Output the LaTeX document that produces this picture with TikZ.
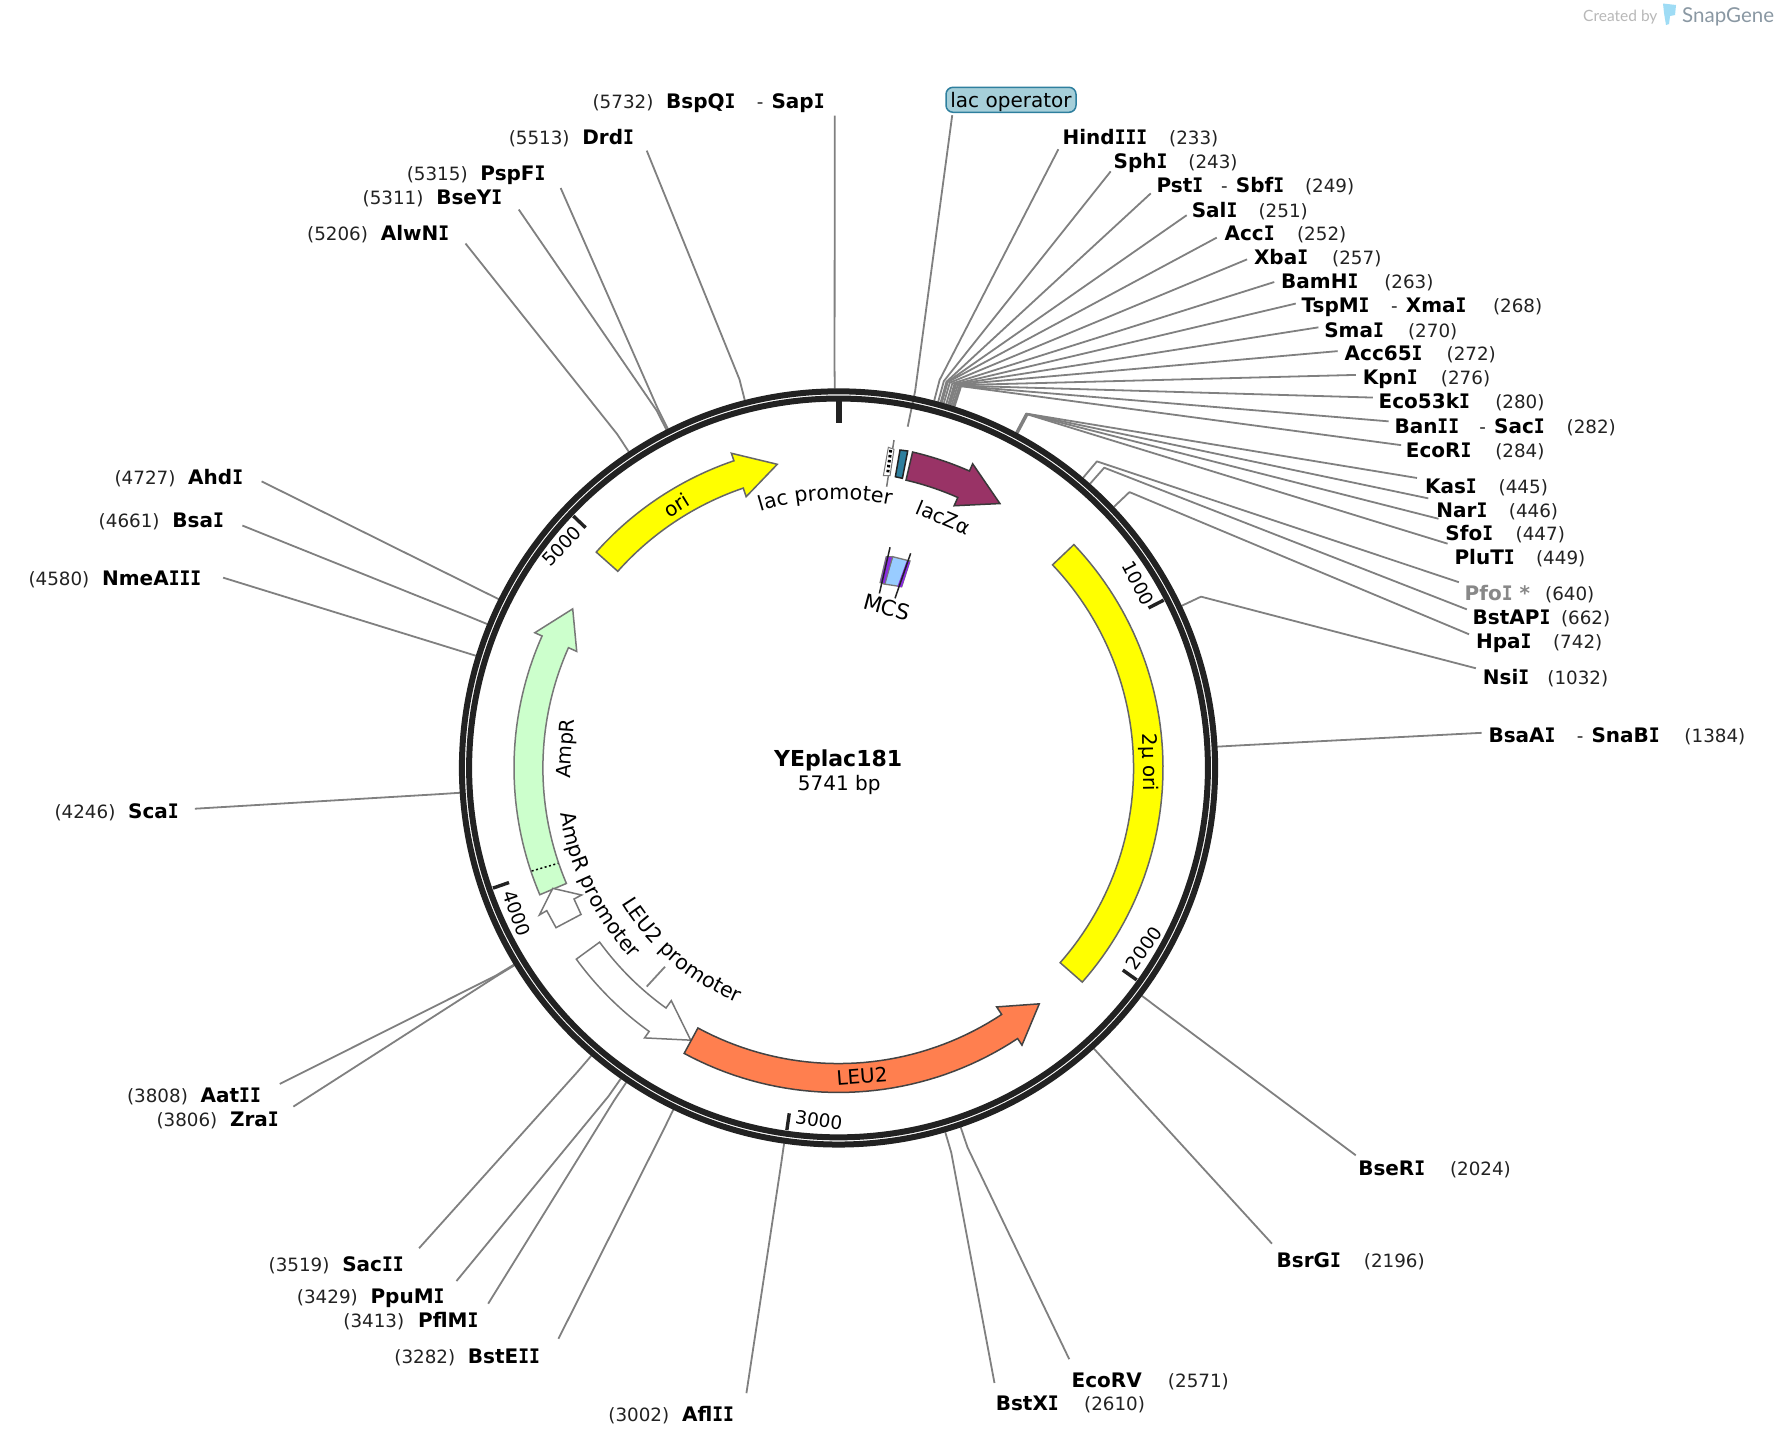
\documentclass[tikz,border=0pt]{standalone}
\usepackage{fontspec}
\setmainfont{DejaVu Sans}
\newfontfamily\monoI[FakeStretch=0.9]{DejaVu Sans Mono Bold}
\newfontfamily\latofont{Lato}
\usetikzlibrary{decorations.text}
\newcommand\J{{\monoI I}}
\definecolor{leadgray}{HTML}{808080}
\definecolor{ringdark}{HTML}{222222}
\definecolor{edgegray}{HTML}{666666}
\definecolor{edgelight}{HTML}{777777}
\definecolor{lacz}{HTML}{993366}
\definecolor{ampg}{HTML}{CCFFCC}
\definecolor{leuo}{HTML}{FF7F4F}
\definecolor{opblue}{HTML}{2E7F9E}
\definecolor{oppale}{HTML}{A6CFD9}
\definecolor{mcsblue}{HTML}{99CCFF}
\definecolor{mcspurple}{HTML}{8A2BE2}
\definecolor{pfogray}{HTML}{888888}
\definecolor{logotext}{HTML}{8A98A3}
\definecolor{logogray}{HTML}{B8B8B8}
\definecolor{logoblue}{HTML}{9FDCF5}
\definecolor{pureyellow}{HTML}{FFFF00}
\tikzset{
  leader/.style={draw=leadgray,line width=1.8pt,line join=round},
  namelab/.style={anchor=base west,inner sep=0pt,font=\fontsize{20}{24}\selectfont\bfseries},
  numlab/.style={anchor=base west,inner sep=0pt,font=\fontsize{18.3}{22}\selectfont,text=ringdark},
  featlab/.style={inner sep=0pt,font=\fontsize{20}{24}\selectfont},
  ticklab/.style={inner sep=0pt,font=\fontsize{18.5}{22}\selectfont},
  feat/.style={line width=1.5pt,line join=miter},
}
% site leader: id, bp, free end x, y
\newcommand\site[4]{%
  \pgfmathsetmacro{\thb}{#2/5741*360}%
  \coordinate (#1-r) at ({740.3+335*sin(\thb)},{678-335*cos(\thb)});%
  \coordinate (#1-k) at ({740.3+354*sin(\thb)},{678-354*cos(\thb)});%
  \coordinate (#1-e) at (#3,#4);%
  \draw[leader] (#1-r) -- (#1-k) -- (#1-e);}
% label parts
\newcommand\nm[4]{\node[namelab] (#1) at (#2,#3+6.6) {#4};}
\newcommand\nr[4]{\node[numlab] (#1) at (#2,#3+6.6) {#4};}
\newcommand\dashl[3]{\node[numlab] (#1) at (#2,#3+6.6) {-};}
% arrow feature: style, start, base, tip
\newcommand\arrowfeat[4]{%
  \draw[feat,#1] plot[domain=#2:#3,samples=40] ({740.3+286.5*sin(\x)},{678-286.5*cos(\x)})
    -- ({740.3+293.5*sin(#3)},{678-293.5*cos(#3)})
    -- ({740.3+273.5*sin(#4)},{678-273.5*cos(#4)})
    -- ({740.3+253*sin(#3)},{678-253*cos(#3)})
    -- plot[domain=#3:#2,samples=40] ({740.3+261*sin(\x)},{678-261*cos(\x)})
    -- cycle;}
\newcommand\ticktop[2]{%
  \pgfmathsetmacro{\thb}{#1/5741*360}%
  \draw[ringdark,line width=#2pt] ({740.3+323*sin(\thb)},{678-323*cos(\thb)}) -- ({740.3+308*sin(\thb)},{678-308*cos(\thb)});}
\begin{document}
\begin{tikzpicture}[x=1.13265pt,y=-1.13265pt]
\useasboundingbox (0,0) rectangle (1568,1276.65);
\fill[white] (0,0) rectangle (1568,1276.65);
% ---- leaders
\site{bspqi}{5732}{737}{102}
\site{drdi}{5513}{571}{133}
\site{pspfi}{5315}{495}{166}
\site{bseyi}{5311}{458}{185}
\site{alwni}{5206}{411}{215}
\site{hind}{233}{934.4}{131.8}
\site{sphi}{243}{980.6}{151.3}
\site{psti}{249}{1016}{170.7}
\site{sali}{251}{1047.7}{190}
\site{acci}{252}{1074.2}{209.8}
\site{xbai}{257}{1101}{229}
\site{bamhi}{263}{1125}{249}
\site{tspmi}{268}{1144}{268}
\site{smai}{270}{1164}{289}
\site{acc}{272}{1181}{310}
\site{kpni}{276}{1197}{331}
\site{eco}{280}{1212}{351}
\site{banii}{282}{1226}{372}
\site{ecori}{284}{1237}{393}
\site{kasi}{445}{1251}{422}
\site{nari}{446}{1261}{440}
\site{sfoi}{447}{1270}{458}
\site{pluti}{449}{1278}{480}
\site{pfoi}{640}{1288}{514}
\site{bstapi}{662}{1295}{538}
\site{hpai}{742}{1297}{560}
\site{nsii}{1032}{1303}{590}
\site{bsaai}{1384}{1308}{647}
\site{bseri}{2024}{1197}{1020}
\site{bsrgi}{2196}{1123}{1098}
\site{ecorv}{2571}{944}{1200}
\site{bstxi}{2610}{878}{1221}
\site{afliii}{3002}{659}{1230}
\site{bsteii}{3282}{493}{1182}
\site{pflmi}{3413}{431}{1151}
\site{ppumi}{3429}{403}{1131}
\site{sacii}{3519}{370}{1102}
\site{zrai}{3806}{259}{977}
\site{aatii}{3808}{247}{957}
\site{scai}{4246}{172}{714}
\site{nme}{4580}{197}{510}
\site{bsai}{4661}{214}{464}
\site{ahdi}{4727}{231}{425}
% ---- lac operator
\node[draw=opblue,fill=oppale,line width=1.5pt,rounded corners=7pt,minimum width=130pt,minimum height=25pt,inner sep=0pt,text height=18pt,text depth=2.8pt,font=\fontsize{20}{24}\selectfont] (lacop) at (892.6,88.1) {lac operator};
\coordinate (lacop-e) at (840.7,101.7);
\coordinate (lacop-k) at (808,345);
\coordinate (lacop-r) at (801.4,376.7);
\draw[leader] (lacop-e) -- (lacop-k) -- (lacop-r);
% ---- ring
\draw[ringdark,line width=6pt] (740.3,678) circle[radius=376.6pt];
\draw[ringdark,line width=6pt] (740.3,678) circle[radius=369.4pt];
\draw[ringdark,line width=5.5pt] (740.6,352) -- (740.6,373.6);
\ticktop{1000}{3.4}
\ticktop{2000}{3.4}
\ticktop{3000}{3.4}
\ticktop{4000}{3.4}
\ticktop{5000}{3.4}
\node[ticklab,rotate=-62.7] (t1000) at (1005,515) {1000};
\node[ticklab,rotate=54.6] (t2000) at (1010,837) {2000};
\node[ticklab,rotate=-8] (t3000) at (723,989) {3000};
\node[ticklab,rotate=-70.8] (t4000) at (456.2,806.5) {4000};
\node[ticklab,rotate=46.5] (t5000) at (496,482) {5000};
% ---- features
\draw[feat,draw=edgegray,fill=pureyellow] plot[domain=46.5:131.3,samples=60] ({740.3+286.5*sin(\x)},{678-286.5*cos(\x)})
  -- plot[domain=131.3:46.5,samples=60] ({740.3+260.5*sin(\x)},{678-260.5*cos(\x)}) -- cycle;
\arrowfeat{draw=ringdark!90,fill=lacz}{13.2}{23.8}{31.4}
\arrowfeat{draw=edgegray,fill=pureyellow}{-48.3}{-18.8}{-11.4}
\arrowfeat{draw=edgelight,fill=ampg}{-113}{-66}{-59.1}
\arrowfeat{draw=edgelight,fill=white}{-126.1}{-144.3}{-151.5}
\arrowfeat{draw=ringdark!85,fill=leuo}{208.4}{146.5}{139.6}
\draw[black,line width=1.5pt,dash pattern=on 2pt off 2.5pt] (469.4,769) -- (492.9,762.2);
\draw[feat,draw=edgelight,fill=white] (490.9,819) -- (482.7,804) -- (476.2,807.8) -- (488,784.3) -- (513.5,790.2) -- (506.8,793.7) -- (513,807.3) -- cycle;
% lac promoter sliver, lac operator block
\draw[line width=1.5pt,draw=edgelight] (789.3,388.5) -- (782.8,429.7);
\draw[line width=1pt,draw=edgelight,fill=white] (784.3,394.9) -- (789.3,396.7) -- (785.8,420) -- (779.9,420) -- cycle;
\draw[black,line width=3pt,dash pattern=on 2.5pt off 2.5pt] (786.4,397.3) -- (783.6,418.5);
\draw[line width=1.5pt,draw=ringdark,fill=opblue] (794.6,397.3) -- (801.4,398.2) -- (796.7,422.3) -- (790.5,420.9) -- cycle;
% MCS
\draw[line width=1.3pt,draw=edgelight,fill=mcsblue] (788.1,491.5) -- (803.4,495.3) -- (796.1,518) -- (780.5,515.6) -- cycle;
\draw[line width=1pt,draw=edgelight,fill=mcspurple] (782.3,491.5) -- (788.1,491.5) -- (781.4,515.6) -- (776.9,514.4) -- cycle;
\fill[mcspurple] (800.5,495.3) -- (803.4,496.2) -- (796.1,518.5) -- (792.2,518) -- cycle;
\draw[ringdark,line width=1.5pt] (785.8,483.2) -- (776.4,523.9);
\draw[ringdark,line width=1.5pt] (804,488.5) -- (790.2,528.2);
% LEU2 promoter leader
\coordinate (leup-a) at (587.1,853.5);
\coordinate (leup-b) at (571,871);
\draw[leader] (leup-a) -- (leup-b);
% ---- feature labels
\node[featlab,rotate=-89] (f2mu) at (1014,673) {2µ ori};
\node[featlab,rotate=31.6] (fori) at (597,446) {ori};
\node[featlab,rotate=86] (famp) at (500.5,661) {AmpR};
\node[featlab,rotate=4.4] (fleu) at (761,950.5) {LEU2};
\node[featlab,rotate=-22.7] (flacz) at (833,457) {lacZα};
\node[featlab,rotate=-15,font=\fontsize{21.5}{24}\selectfont] (fmcs) at (783,536) {MCS};
\path[decorate,decoration={text along path,text align=center,text={|\fontsize{20.6}{24}\selectfont|lac promoter}}]
  plot[domain=-17.4:11.7,samples=40] ({740.3+237*sin(\x)},{678-237*cos(\x)});
\path[decorate,decoration={text along path,text align=center,text={|\fontsize{20.6}{24}\selectfont|AmpR promoter}}]
  plot[domain=-99:-133,samples=40] ({740.3+249*sin(\x)},{678-249*cos(\x)});
\path[decorate,decoration={text along path,text align=center,text={|\fontsize{20.6}{24}\selectfont|LEU2 promoter}}]
  plot[domain=-120.3:-158.3,samples=40] ({740.3+226*sin(\x)},{678-226*cos(\x)});
% ---- centre
\node[inner sep=0pt,font=\fontsize{22}{26}\selectfont\bfseries] (title) at (740,671.5) {YEplac181};
\node[inner sep=0pt,font=\fontsize{20}{24}\selectfont] (size) at (741,693) {5741 bp};
% ---- site labels
\nr{n5732}{523}{89}{(5732)}\nm{m5732}{588}{89}{BspQ\J}\dashl{d5732}{668}{89}\nm{m5732b}{681}{89}{Sap\J}
\nr{n5513}{449}{121}{(5513)}\nm{m5513}{514}{121}{Drd\J}
\nr{n5315}{359}{153}{(5315)}\nm{m5315}{424}{153}{PspF\J}
\nr{n5311}{320}{174}{(5311)}\nm{m5311}{385}{174}{BseY\J}
\nr{n5206}{271}{206}{(5206)}\nm{m5206}{336}{206}{AlwN\J}
\nm{m233}{938}{121}{Hind\J\J\J}\nr{n233}{1032}{121}{(233)}
\nm{m243}{983}{142}{Sph\J}\nr{n243}{1049}{142}{(243)}
\nm{m249}{1021}{163}{Pst\J}\dashl{d249}{1078}{163}\nm{m249b}{1091}{163}{Sbf\J}\nr{n249}{1152}{163}{(249)}
\nm{m251}{1052}{185}{Sal\J}\nr{n251}{1111}{185}{(251)}
\nm{m252}{1081}{206}{Acc\J}\nr{n252}{1145}{206}{(252)}
\nm{m257}{1107}{227}{Xba\J}\nr{n257}{1176}{227}{(257)}
\nm{m263}{1131}{248}{BamH\J}\nr{n263}{1222}{248}{(263)}
\nm{m268}{1149}{269}{TspM\J}\dashl{d268}{1228}{269}\nm{m268b}{1241}{269}{Xma\J}\nr{n268}{1318}{269}{(268)}
\nm{m270}{1169}{291}{Sma\J}\nr{n270}{1243}{291}{(270)}
\nm{m272}{1187}{312}{Acc65\J}\nr{n272}{1277}{312}{(272)}
\nm{m276}{1203}{333}{Kpn\J}\nr{n276}{1272}{333}{(276)}
\nm{m280}{1217}{354}{Eco53k\J}\nr{n280}{1320}{354}{(280)}
\nm{m282}{1231}{376}{Ban\J\J}\dashl{d282}{1306}{376}\nm{m282b}{1319}{376}{Sac\J}\nr{n282}{1383}{376}{(282)}
\nm{m284}{1241}{397}{EcoR\J}\nr{n284}{1320}{397}{(284)}
\nm{m445}{1258}{429}{Kas\J}\nr{n445}{1323}{429}{(445)}
\nm{m446}{1268}{450}{Nar\J}\nr{n446}{1332}{450}{(446)}
\nm{m447}{1276}{471}{Sfo\J}\nr{n447}{1338}{471}{(447)}
\nm{m449}{1284}{492}{PluT\J}\nr{n449}{1356}{492}{(449)}
\node[namelab,text=pfogray] (m640) at (1293,530.6) {Pfo\J\ *};\nr{n640}{1364}{524}{(640)}
\nm{m662}{1300}{545}{BstAP\J}\nr{n662}{1378}{545}{(662)}
\nm{m742}{1303}{566}{Hpa\J}\nr{n742}{1371}{566}{(742)}
\nm{m1032}{1309}{598}{Nsi\J}\nr{n1032}{1366}{598}{(1032)}
\nm{m1384}{1314}{649}{BsaA\J}\dashl{d1384}{1392}{649}\nm{m1384b}{1405}{649}{SnaB\J}\nr{n1384}{1487}{649}{(1384)}
\nm{m2024}{1199}{1031}{BseR\J}\nr{n2024}{1280}{1031}{(2024)}
\nm{m2196}{1127}{1112}{BsrG\J}\nr{n2196}{1204}{1112}{(2196)}
\nm{m2571}{946}{1218}{EcoRV}\nr{n2571}{1031}{1218}{(2571)}
\nm{m2610}{879}{1239}{BstX\J}\nr{n2610}{957}{1239}{(2610)}
\nr{n3002}{537}{1248}{(3002)}\nm{m3002}{602}{1248}{Afl\J\J}
\nr{n3282}{348}{1197}{(3282)}\nm{m3282}{413}{1197}{BstE\J\J}
\nr{n3413}{303}{1165}{(3413)}\nm{m3413}{369}{1165}{PflM\J}
\nr{n3429}{262}{1144}{(3429)}\nm{m3429}{327}{1144}{PpuM\J}
\nr{n3519}{237}{1116}{(3519)}\nm{m3519}{302}{1116}{Sac\J\J}
\nr{n3806}{138}{988}{(3806)}\nm{m3806}{203}{988}{Zra\J}
\nr{n3808}{112}{967}{(3808)}\nm{m3808}{177}{967}{Aat\J\J}
\nr{n4246}{48}{716}{(4246)}\nm{m4246}{113}{716}{Sca\J}
\nr{n4580}{25}{510}{(4580)}\nm{m4580}{90}{510}{NmeA\J\J\J}
\nr{n4661}{87}{459}{(4661)}\nm{m4661}{152}{459}{Bsa\J}
\nr{n4727}{101}{421}{(4727)}\nm{m4727}{166}{421}{Ahd\J}
% ---- credit
\begin{scope}[x=1pt,y=-1pt]
\node[anchor=base west,inner sep=0pt,text=logogray,font=\latofont\fontsize{15.5}{18}\selectfont] (created) at (1583,21) {Created by};
\node[anchor=base west,inner sep=0pt,text=logotext,font=\latofont\fontsize{20.5}{24}\selectfont] (snapgene) at (1682,22.5) {SnapGene};
\fill[logoblue] (1663,3.5) -- (1676,5) -- (1675,15) -- (1670,16) -- (1669,24) -- (1666,25) -- (1664,13) -- cycle;
\end{scope}
\end{tikzpicture}
\end{document}
